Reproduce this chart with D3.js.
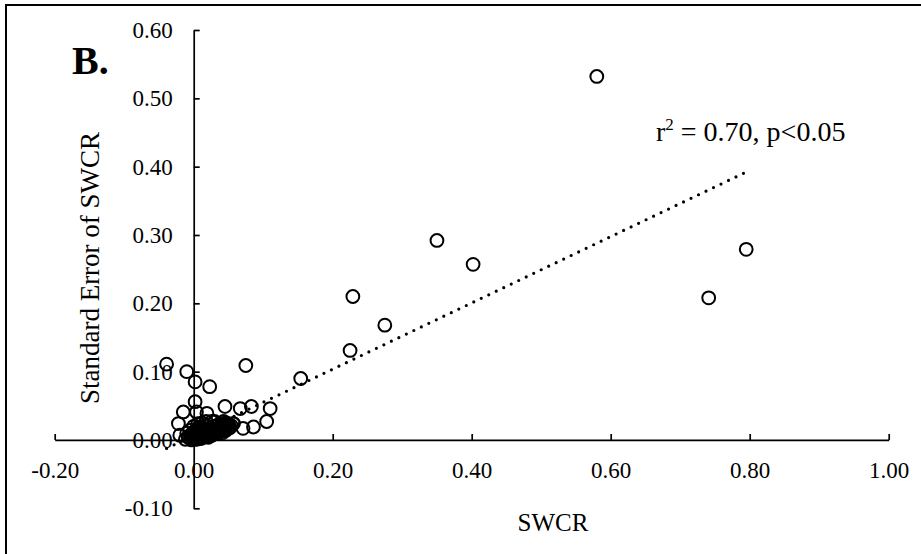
<!DOCTYPE html>
<html>
<head>
<meta charset="utf-8">
<script src="https://cdn.jsdelivr.net/npm/d3@7"></script>
<style>
  html, body { margin: 0; padding: 0; background: #fff; }
  svg { display: block; }
  text { font-family: "Liberation Serif", "Times New Roman", serif; fill: #000; }
</style>
</head>
<body>
<svg id="chart" width="921" height="554"></svg>
<script>
// ---- data ----
const xTicks = [-0.2, 0.0, 0.2, 0.4, 0.6, 0.8, 1.0];
const yTicks = [-0.1, 0.0, 0.1, 0.2, 0.3, 0.4, 0.5, 0.6];
const xTickLabels = ["-0.20", "0.00", "0.20", "0.40", "0.60", "0.80", "1.00"];
const yTickLabels = ["-0.10", "0.00", "0.10", "0.20", "0.30", "0.40", "0.50", "0.60"];

// SWCR values (x) and standard error of SWCR (y): outlying points
const swcrOuter = [0.580, 0.795, 0.741, 0.350, 0.402, 0.229, 0.275, 0.225, 0.154, 0.075,
                   0.023, 0.002, -0.039, -0.010, 0.002, -0.015, 0.004, 0.019, 0.045, 0.067,
                   0.083, 0.110, 0.105, 0.086, 0.071, -0.022, 0.026, 0.043, 0.057, -0.020];
const seOuter   = [0.532, 0.279, 0.208, 0.292, 0.257, 0.210, 0.168, 0.131, 0.090, 0.109,
                   0.078, 0.085, 0.111, 0.100, 0.056, 0.041, 0.041, 0.039, 0.049, 0.046,
                   0.049, 0.046, 0.027, 0.019, 0.017, 0.024, 0.027, 0.024, 0.024, 0.007];

// dense cluster near the origin
const swcrCluster = [-0.008, -0.004, -0.002, 0.000, 0.001, 0.002, 0.003, 0.004, 0.005, 0.006,
                     0.007, 0.008, 0.009, 0.010, 0.011, 0.012, 0.013, 0.014, 0.015, 0.016,
                     0.017, 0.018, 0.019, 0.020, 0.021, 0.022, 0.023, 0.024, 0.025, 0.026,
                     0.027, 0.028, 0.029, 0.030, 0.031, 0.032, 0.033, 0.034, 0.035, 0.036,
                     0.037, 0.038, 0.039, 0.040, 0.041, 0.042, 0.043, 0.044, 0.045, 0.046,
                     0.047, 0.048, 0.049, 0.050, 0.052, 0.054, -0.010, -0.006, 0.000, 0.006,
                     0.012, 0.018, 0.030, 0.043, 0.057, -0.012,
                     -0.005, 0.001, 0.003, 0.007, 0.009, 0.012, 0.014, 0.017, 0.019, 0.022,
                     0.024, 0.027, 0.029, 0.032, 0.034, 0.037, 0.040, 0.044, 0.048, 0.051,
                     -0.003, 0.004, 0.010, 0.016, 0.021, 0.026, 0.031, 0.036, 0.041, 0.046];
const seCluster   = [0.004, 0.002, 0.008, 0.001, 0.012, 0.005, 0.003, 0.016, 0.008, 0.002,
                     0.011, 0.005, 0.019, 0.007, 0.003, 0.013, 0.009, 0.004, 0.016, 0.010,
                     0.006, 0.021, 0.012, 0.008, 0.015, 0.006, 0.011, 0.018, 0.009, 0.013,
                     0.008, 0.016, 0.011, 0.020, 0.014, 0.010, 0.017, 0.012, 0.022, 0.015,
                     0.011, 0.019, 0.013, 0.017, 0.024, 0.014, 0.020, 0.016, 0.022, 0.018,
                     0.025, 0.016, 0.020, 0.023, 0.018, 0.021, 0.010, 0.014, 0.020, 0.024,
                     0.025, 0.027, 0.027, 0.027, 0.024, 0.001,
                     0.007, 0.003, 0.010, 0.006, 0.014, 0.004, 0.011, 0.008, 0.015, 0.010,
                     0.006, 0.013, 0.009, 0.015, 0.011, 0.017, 0.014, 0.019, 0.017, 0.020,
                     0.000, 0.001, 0.002, 0.005, 0.004, 0.007, 0.009, 0.012, 0.010, 0.014];

// linear trend line (y = slope*x + intercept)
const trendSlope = 0.485;
const trendIntercept = 0.0066;

const swcr = swcrOuter.concat(swcrCluster);
const se = seOuter.concat(seCluster);
const points = swcr.map((v, i) => ({ x: v, y: se[i] }));

// ---- drawing ----
const svg = d3.select("#chart");
const FONT = '"Liberation Serif", "Times New Roman", serif';

// frame (top/left edges visible in crop)
svg.append("path")
  .attr("d", "M6,560V5H930")
  .attr("fill", "none").attr("stroke", "#000").attr("stroke-width", 2);

const x = d3.scaleLinear().domain([-0.2, 1.0]).range([54.7, 888.7]);
const y = d3.scaleLinear().domain([-0.1, 0.6]).range([508.3, 30]);

// x axis (ticks upward)
const gx = svg.append("g")
  .attr("transform", `translate(0,${y(0)})`)
  .call(d3.axisBottom(x).tickValues(xTicks).tickFormat((d, i) => xTickLabels[i])
        .tickSizeInner(-6).tickSizeOuter(0).tickPadding(22));
gx.selectAll("path, line").attr("stroke", "#000").attr("stroke-width", 1.7);
gx.selectAll("text").style("font-size", "23px").style("font-family", FONT);

// y axis (ticks to the right)
const gy = svg.append("g")
  .attr("transform", `translate(${x(0)},0)`)
  .call(d3.axisLeft(y).tickValues(yTicks).tickFormat((d, i) => yTickLabels[i])
        .tickSizeInner(-6).tickSizeOuter(0).tickPadding(21));
gy.selectAll("path, line").attr("stroke", "#000").attr("stroke-width", 1.7);
gy.selectAll("text").style("font-size", "23px").style("font-family", FONT);

// markers
svg.append("g").selectAll("circle")
  .data(points).join("circle")
  .attr("cx", d => x(d.x)).attr("cy", d => y(d.y))
  .attr("r", 6.4)
  .attr("fill", "none").attr("stroke", "#000").attr("stroke-width", 2);

// trend line over data range
const xMin = d3.min(swcr), xMax = d3.max(swcr);
svg.append("line")
  .attr("x1", x(xMin)).attr("y1", y(trendSlope * xMin + trendIntercept))
  .attr("x2", x(xMax)).attr("y2", y(trendSlope * xMax + trendIntercept))
  .attr("stroke", "#000").attr("stroke-width", 3.2)
  .attr("stroke-linecap", "round").attr("stroke-dasharray", "0 8.3");

// annotation
const ann = svg.append("text").attr("x", 656).attr("y", 141).style("font-size", "28px");
ann.append("tspan").text("r");
ann.append("tspan").attr("dy", -11).style("font-size", "17px").text("2");
ann.append("tspan").attr("dy", 11).text(" = 0.70, p<0.05");

// panel label
svg.append("text").attr("x", 72).attr("y", 74)
  .style("font-size", "40px").style("font-weight", "bold").text("B.");

// axis titles
svg.append("text")
  .attr("transform", `translate(99,268) rotate(-90)`)
  .attr("text-anchor", "middle").style("font-size", "27px")
  .text("Standard Error of SWCR");

svg.append("text")
  .attr("x", 553).attr("y", 531)
  .attr("text-anchor", "middle").style("font-size", "25px")
  .text("SWCR");
</script>
</body>
</html>
